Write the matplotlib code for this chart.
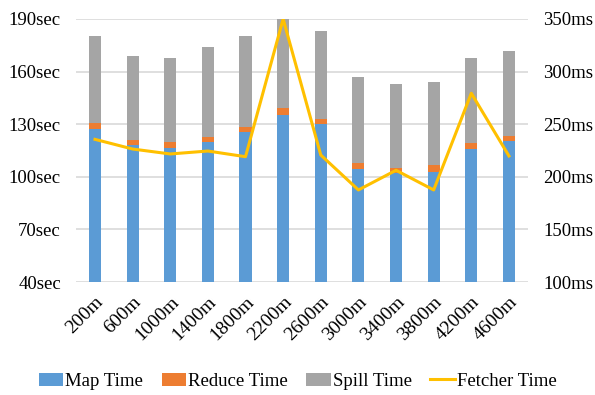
import matplotlib.pyplot as plt
import numpy as np

plt.rcParams['font.family'] = ['Liberation Serif', 'DejaVu Serif']

labels = ["200m", "600m", "1000m", "1400m", "1800m", "2200m",
          "2600m", "3000m", "3400m", "3800m", "4200m", "4600m"]
map_time = [127, 118, 116.6, 119.7, 125.7, 135, 130, 104.6, 102, 103, 116, 120.6]
reduce_time = [3.8, 3.0, 3.3, 3.0, 2.9, 4.0, 3.0, 3.1, 2.8, 4.0, 3.0, 2.9]
spill_top = [180, 169, 168, 174, 180, 190, 183, 157, 153, 154, 168, 172]
fetcher_ms = [235.6, 226.4, 221.7, 224.5, 219.1, 350, 220.7,
              187.5, 206.2, 187.5, 279.4, 219.8]

blue, orange, gray, gold = "#5B9BD5", "#ED7D31", "#A5A5A5", "#FFC000"

x = np.arange(len(labels))
map_arr = np.array(map_time)
red_arr = np.array(reduce_time)
spill_arr = np.array(spill_top) - map_arr - red_arr

fig = plt.figure(figsize=(5.95, 3.95), dpi=100)
ax = fig.add_axes([0.128, 0.286, 0.759, 0.666])
w = 0.32
ax.bar(x, map_arr, w, bottom=0, color=blue, label="Map Time", zorder=2)
ax.bar(x, red_arr, w, bottom=map_arr, color=orange, label="Reduce Time", zorder=2)
ax.bar(x, spill_arr, w, bottom=map_arr + red_arr, color=gray, label="Spill Time", zorder=2)

ax.set_ylim(40, 190)
ax.set_yticks(np.arange(40, 191, 30))
ax.set_yticklabels([f"{v}sec" for v in range(40, 191, 30)])
ax.set_xlim(-0.5, len(labels) - 0.5)
ax.set_xticks(x)
ax.set_xticklabels(labels, rotation=45, ha="right", rotation_mode="anchor")
ax.grid(axis="y", color="#D9D9D9", linewidth=1.2, zorder=0)
for s in ax.spines.values():
    s.set_visible(False)
ax.tick_params(axis="y", length=0, labelsize=13.5, pad=11)
ax.tick_params(axis="x", length=0, labelsize=14, pad=8)

ax2 = ax.twinx()
ax2.plot(x, fetcher_ms, color=gold, linewidth=2.2, label="Fetcher Time", zorder=3)
ax2.set_ylim(100, 350)
ax2.set_yticks(np.arange(100, 351, 50))
ax2.set_yticklabels([f"{v}ms" for v in range(100, 351, 50)])
for s in ax2.spines.values():
    s.set_visible(False)
ax2.tick_params(length=0, labelsize=13.5, pad=11)

h1, l1 = ax.get_legend_handles_labels()
h2, l2 = ax2.get_legend_handles_labels()
fig.legend(h1 + h2, l1 + l2, loc="center", bbox_to_anchor=(0.5, 0.035), ncol=4,
           frameon=False, fontsize=13.5, handlelength=1.3, handletextpad=0.1,
           columnspacing=1.0)

fig.savefig("out.png")
